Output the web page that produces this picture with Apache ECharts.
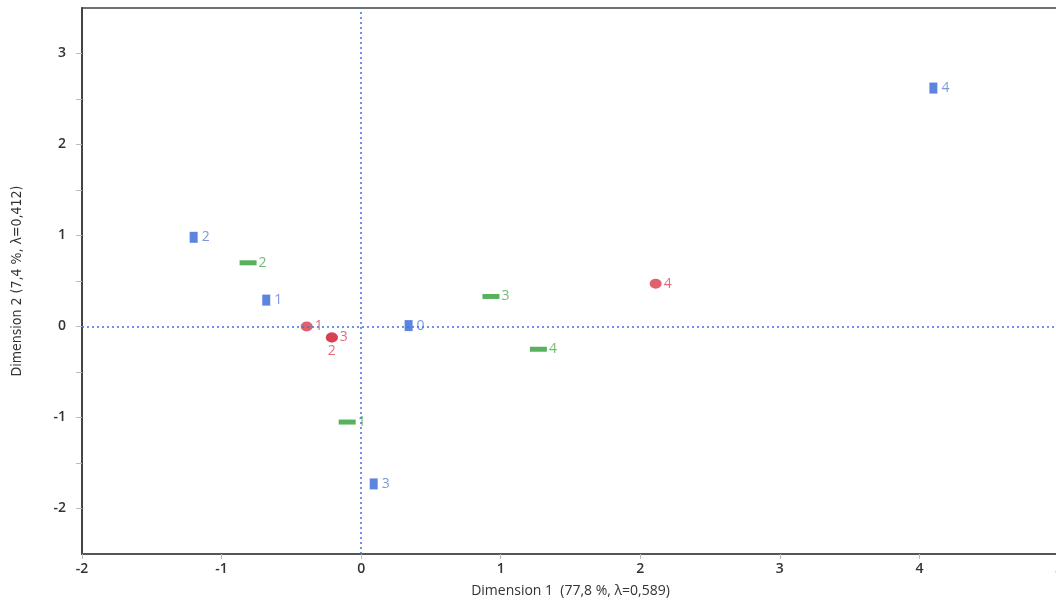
<!DOCTYPE html>
<html>
<head>
<meta charset="utf-8">
<script src="https://cdn.jsdelivr.net/npm/echarts@6/dist/echarts.min.js"></script>
<style>
  html, body { margin: 0; padding: 0; background: #fff; }
  #chart { width: 1056px; height: 602px; }
</style>
</head>
<body>
<div id="chart"></div>
<script>
// blue rectangles
const blueX = [4.10, -1.20, -0.68, 0.34, 0.09];
const blueY = [2.62, 0.98, 0.29, 0.01, -1.73];
const blueLabels = ['4', '2', '1', '0', '3'];

// green bars
const greenX = [-0.81, 0.93, 1.27, -0.10];
const greenY = [0.70, 0.33, -0.25, -1.05];
const greenLabels = ['2', '3', '4', '1'];

// red circles
const redX = [-0.39, -0.21, -0.21, 2.11];
const redY = [0.00, -0.12, -0.12, 0.47];
const redLabels = ['1', '3', '2', '4'];
const redLabelPos = ['right', 'right', 'bottom', 'right'];

const xName = 'Dimension 1  (77,8 %, λ=0,589)';
const yName = 'Dimension 2 (7,4 %, λ=0,412)';

function pts(xs, ys, labels, positions) {
    return xs.map(function(x, i) {
        const p = { value: [x, ys[i]], name: labels[i] };
        if (positions) p.label = { position: positions[i] };
        return p;
    });
}

const chart = echarts.init(document.getElementById('chart'));

const font = '"Open Sans", "Noto Sans", sans-serif';

const option = {
    animation: false,
    grid: {
        left: 82,
        right: -3,
        top: 8,
        bottom: 48,
        outerBoundsMode: 'none',
        containLabel: false,
        show: true,
        borderColor: '#444',
        borderWidth: 1.5
    },
    xAxis: {
        type: 'value',
        min: -2,
        max: 5,
        interval: 1,
        name: xName,
        nameLocation: 'middle',
        nameGap: 30,
        nameTextStyle: { color: '#333', fontSize: 14, fontFamily: font },
        axisLine: { show: true, onZero: false, lineStyle: { color: '#555', width: 2 } },
        axisTick: { show: true, length: 5, lineStyle: { color: '#bbb' } },
        axisLabel: { color: '#333', fontSize: 14, fontFamily: font, margin: 8, fontWeight: 600, showMaxLabel: true, hideOverlap: false },
        splitLine: { show: false }
    },
    yAxis: {
        type: 'value',
        min: -2.5,
        max: 3.5,
        interval: 0.5,
        name: yName,
        nameLocation: 'middle',
        nameGap: 58,
        nameTextStyle: { color: '#333', fontSize: 14, fontFamily: '"DejaVu Sans Condensed", ' + font },
        axisLine: { show: true, onZero: false, lineStyle: { color: '#444', width: 2 } },
        axisTick: { show: true, length: 6, lineStyle: { color: '#bbb' } },
        axisLabel: {
            color: '#333', fontSize: 14, fontFamily: font, margin: 16, fontWeight: 600,
            showMinLabel: false, showMaxLabel: false,
            formatter: function(v) { return Number.isInteger(v) ? String(v) : ''; }
        },
        splitLine: { show: false }
    },
    series: [
        {
            name: 'blue',
            type: 'scatter',
            symbol: 'rect',
            symbolSize: [8, 11],
            itemStyle: { color: '#3566d8' },
            label: { show: true, position: 'right', distance: 4, formatter: '{b}', color: '#5b7fd6', fontSize: 14, fontFamily: font },
            data: pts(blueX, blueY, blueLabels),
            markLine: {
                silent: true,
                symbol: 'none',
                label: { show: false },
                lineStyle: { color: '#3f72e0', type: [2, 3], width: 1.5 },
                data: [{ xAxis: 0 }, { yAxis: 0 }]
            },
            z: 3
        },
        {
            name: 'green',
            type: 'scatter',
            symbol: 'rect',
            symbolSize: [17, 5],
            itemStyle: { color: '#2e9e35' },
            label: { show: true, position: 'right', distance: 2, formatter: '{b}', color: '#4cae4f', fontSize: 14, fontFamily: font },
            data: pts(greenX, greenY, greenLabels),
            z: 3
        },
        {
            name: 'red',
            type: 'scatter',
            symbol: 'circle',
            symbolSize: [12, 10],
            itemStyle: { color: '#d63a4a' },
            label: { show: true, position: 'right', distance: 2, formatter: '{b}', color: '#d9495a', fontSize: 14, fontFamily: font },
            data: pts(redX, redY, redLabels, redLabelPos),
            z: 3
        }
    ]
};

chart.setOption(option);
window.addEventListener('resize', function() { chart.resize(); });
</script>
</body>
</html>
